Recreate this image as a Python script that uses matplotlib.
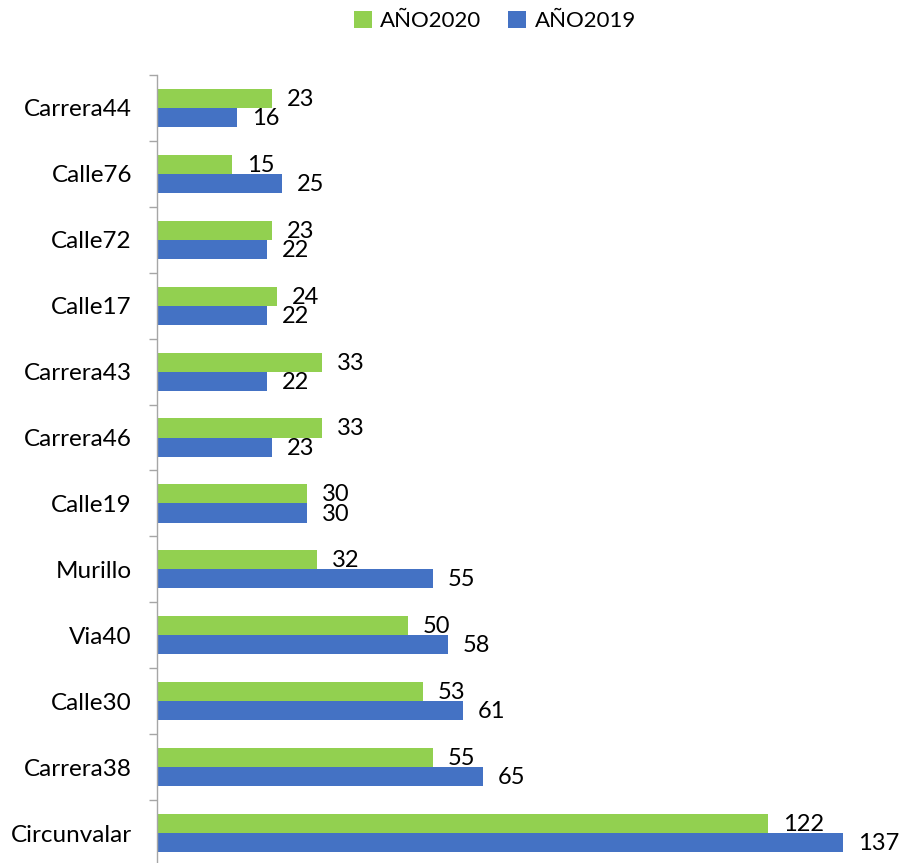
import matplotlib.pyplot as plt
import numpy as np

# data
calles = ["Carrera44", "Calle76", "Calle72", "Calle17", "Carrera43", "Carrera46",
          "Calle19", "Murillo", "Via40", "Calle30", "Carrera38", "Circunvalar"]
anio2020 = [23, 15, 23, 24, 33, 33, 30, 32, 50, 53, 55, 122]
anio2019 = [16, 25, 22, 22, 22, 23, 30, 55, 58, 61, 65, 137]

verde = "#92D050"
azul = "#4472C4"

plt.rcParams['font.family'] = ['Lato', 'DejaVu Sans']

fig = plt.figure(figsize=(9.05, 8.63), dpi=100)
# axes: left edge at 157px, top at 75px, bottom just under the picture
top = 1 - 75 / 863
bottom = 1 - 866 / 863
ax = fig.add_axes([157 / 905, bottom, 738 / 905, top - bottom])

n = len(calles)
y = np.arange(n)
h = 0.29
b1 = ax.barh(y - h / 2, anio2020, height=h, color=verde, label="AÑO2020")
b2 = ax.barh(y + h / 2, anio2019, height=h, color=azul, label="AÑO2019")

for bars, vals in ((b1, anio2020), (b2, anio2019)):
    for r, v in zip(bars, vals):
        ax.annotate(str(v), (r.get_width(), r.get_y() + r.get_height() / 2),
                    xytext=(15, -1), textcoords="offset pixels",
                    ha="left", va="center", fontsize=17)

ax.set_xlim(0, 147.3)
ax.set_ylim(n - 0.5, -0.5)

ax.set_yticks(y)
ax.set_yticklabels(calles, fontsize=17.5)
ax.tick_params(axis="y", which="major", length=0, pad=18)
ax.set_yticks(np.arange(n + 1) - 0.5, minor=True)
ax.tick_params(axis="y", which="minor", length=6, width=1, color="#A6A6A6")
ax.set_xticks([])

for s in ["top", "right", "bottom"]:
    ax.spines[s].set_visible(False)
ax.spines["left"].set_color("#A6A6A6")
ax.spines["left"].set_linewidth(1)

fig.legend(handles=[b1, b2], loc="center", bbox_to_anchor=(495 / 905, 1 - 21 / 863),
           ncol=2, frameon=False, fontsize=16, handlelength=0.8, handleheight=0.8,
           handletextpad=0.4, columnspacing=1.2)

fig.savefig("out.png", dpi=100)
